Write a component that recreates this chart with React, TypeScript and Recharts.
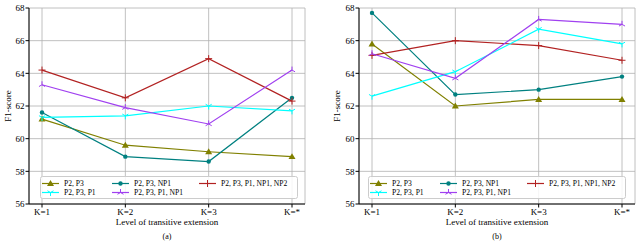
import React from 'react';
import { LineChart, Line, XAxis, YAxis, CartesianGrid } from 'recharts';

const FONT = '"Liberation Serif", "DejaVu Serif", serif';

const LEVELS = ['K=1', 'K=2', 'K=3', 'K=*'];
const Y_TICKS = [56, 58, 60, 62, 64, 66, 68];

// panel (a)
const A_P2P3 = [61.2, 59.6, 59.2, 58.9];
const A_NP1 = [61.6, 58.9, 58.6, 62.5];
const A_P1 = [61.3, 61.4, 62.0, 61.7];
const A_P1NP1 = [63.3, 61.9, 60.9, 64.2];
const A_ALL = [64.2, 62.5, 64.9, 62.3];

// panel (b)
const B_P2P3 = [65.8, 62.0, 62.4, 62.4];
const B_NP1 = [67.7, 62.7, 63.0, 63.8];
const B_P1 = [62.6, 64.1, 66.7, 65.8];
const B_P1NP1 = [65.2, 63.7, 67.3, 67.0];
const B_ALL = [65.1, 66.0, 65.7, 64.8];

type Shape = 'tri' | 'circle' | 'tridown' | 'triup' | 'plus';

const SERIES: { key: string; name: string; color: string; shape: Shape }[] = [
  { key: 's1', name: 'P2, P3', color: '#808000', shape: 'tri' },
  { key: 's2', name: 'P2, P3, NP1', color: '#008080', shape: 'circle' },
  { key: 's5', name: 'P2, P3, P1, NP1, NP2', color: '#b22222', shape: 'plus' },
  { key: 's3', name: 'P2, P3, P1', color: '#00ffff', shape: 'tridown' },
  { key: 's4', name: 'P2, P3, P1, NP1', color: '#a040f0', shape: 'triup' },
];

const buildRows = (s1: number[], s2: number[], s3: number[], s4: number[], s5: number[]) =>
  LEVELS.map((k, i) => ({ k, s1: s1[i], s2: s2[i], s3: s3[i], s4: s4[i], s5: s5[i] }));

const dataA = buildRows(A_P2P3, A_NP1, A_P1, A_P1NP1, A_ALL);
const dataB = buildRows(B_P2P3, B_NP1, B_P1, B_P1NP1, B_ALL);

const Marker = ({ cx, cy, shape, color }: { cx: number; cy: number; shape: Shape; color: string }) => {
  const r = 3.5;
  if (shape === 'tri') {
    return <polygon points={`${cx},${cy - r} ${cx - r},${cy + r * 0.7} ${cx + r},${cy + r * 0.7}`} fill={color} />;
  }
  if (shape === 'circle') return <circle cx={cx} cy={cy} r={2.2} fill={color} />;
  if (shape === 'plus') {
    return (
      <g stroke={color} strokeWidth={1}>
        <line x1={cx - r} y1={cy} x2={cx + r} y2={cy} />
        <line x1={cx} y1={cy - r} x2={cx} y2={cy + r} />
      </g>
    );
  }
  const dir = shape === 'tridown' ? 1 : -1;
  return (
    <g stroke={color} strokeWidth={1}>
      <line x1={cx} y1={cy} x2={cx} y2={cy + dir * r} />
      <line x1={cx} y1={cy} x2={cx - r * 0.87} y2={cy - dir * r * 0.5} />
      <line x1={cx} y1={cy} x2={cx + r * 0.87} y2={cy - dir * r * 0.5} />
    </g>
  );
};

// legend order is column-major like matplotlib ncol=3
const LEGEND_POS = [
  { key: 's1', col: 0, row: 0 },
  { key: 's3', col: 0, row: 1 },
  { key: 's2', col: 1, row: 0 },
  { key: 's4', col: 1, row: 1 },
  { key: 's5', col: 2, row: 0 },
];
const COL_X = [1, 71, 158];

const LegendBox = () => (
  <svg width={258} height={23} style={{ display: 'block' }}>
    <rect x={0.5} y={0.5} width={257} height={22} rx={2} fill="#ffffff" fillOpacity={0.85} stroke="#cccccc" />
    {LEGEND_POS.map((p) => {
      const s = SERIES.find((x) => x.key === p.key)!;
      const y = 7.5 + p.row * 9;
      const x0 = COL_X[p.col] + 1;
      return (
        <g key={p.key}>
          <line x1={x0} y1={y} x2={x0 + 17} y2={y} stroke={s.color} strokeWidth={1.2} />
          <Marker cx={x0 + 8.5} cy={y} shape={s.shape} color={s.color} />
          <text x={x0 + 22} y={y + 2.6} fontSize={7.6} fontFamily={FONT} fill="#000">
            {s.name}
          </text>
        </g>
      );
    })}
  </svg>
);

const Panel = ({
  data,
  left,
  yAxisWidth,
  rightMargin,
  legendLeft,
  yLabelX,
  tag,
}: {
  data: any[];
  left: number;
  yAxisWidth: number;
  rightMargin: number;
  legendLeft: number;
  yLabelX: number;
  tag: string;
}) => {
  const plotLeft = yAxisWidth;
  const plotRight = 320 - rightMargin;
  const mid = (plotLeft + plotRight) / 2;
  return (
    <div style={{ position: 'absolute', left, top: 0, width: 320, height: 247 }}>
      <LineChart width={320} height={247} data={data} margin={{ top: 8, right: rightMargin, bottom: 23, left: 0 }}>
        <CartesianGrid stroke="#b0b0b0" strokeWidth={0.8} />
        <XAxis
          dataKey="k"
          padding={{ left: 13, right: 13 }}
          height={20}
          tick={{ fontSize: 9, fill: '#000', fontFamily: FONT }}
          tickSize={3.5}
          tickMargin={1}
          axisLine={{ stroke: '#000' }}
          tickLine={{ stroke: '#000' }}
          interval={0}
        />
        <XAxis xAxisId="top" dataKey="k" orientation="top" height={0} tick={false} tickLine={false} axisLine={{ stroke: '#000' }} />
        <YAxis
          domain={[56, 68]}
          ticks={Y_TICKS}
          width={yAxisWidth}
          tick={{ fontSize: 9, fill: '#000', fontFamily: FONT }}
          tickSize={3.5}
          tickMargin={1}
          axisLine={{ stroke: '#000' }}
          tickLine={{ stroke: '#000' }}
        />
        <YAxis yAxisId="r" orientation="right" domain={[56, 68]} width={0} tick={false} tickLine={false} axisLine={{ stroke: '#000' }} />
        {SERIES.map((s) => (
          <Line
            key={s.key}
            type="linear"
            dataKey={s.key}
            name={s.name}
            stroke={s.color}
            strokeWidth={1.2}
            dot={(p: any) => <Marker key={`${s.key}-${p.index}`} cx={p.cx} cy={p.cy} shape={s.shape} color={s.color} />}
            activeDot={false}
            isAnimationActive={false}
          />
        ))}
      </LineChart>
      <div style={{ position: 'absolute', left: legendLeft, top: 176 }}>
        <LegendBox />
      </div>
      <div
        style={{
          position: 'absolute',
          left: yLabelX - 30,
          top: 106 - 6,
          width: 60,
          textAlign: 'center',
          fontFamily: FONT,
          fontSize: 9,
          lineHeight: '12px',
          transform: 'rotate(-90deg)',
        }}
      >
        F1-score
      </div>
      <div
        style={{
          position: 'absolute',
          left: mid - 100,
          top: 216,
          width: 200,
          textAlign: 'center',
          fontFamily: FONT,
          fontSize: 9,
          lineHeight: '12px',
        }}
      >
        Level of transitive extension
      </div>
      <div
        style={{
          position: 'absolute',
          left: mid - 20,
          top: 231,
          width: 40,
          textAlign: 'center',
          fontFamily: FONT,
          fontSize: 8,
          lineHeight: '12px',
        }}
      >
        {tag}
      </div>
    </div>
  );
};

export default function App() {
  return (
    <div style={{ position: 'absolute', left: 0, top: 0, width: 640, height: 247, background: '#fff' }}>
      <Panel data={dataA} left={0} yAxisWidth={29} rightMargin={15} legendLeft={40} yLabelX={8} tag="(a)" />
      <Panel data={dataB} left={320} yAxisWidth={39} rightMargin={5} legendLeft={48} yLabelX={17} tag="(b)" />
    </div>
  );
}
